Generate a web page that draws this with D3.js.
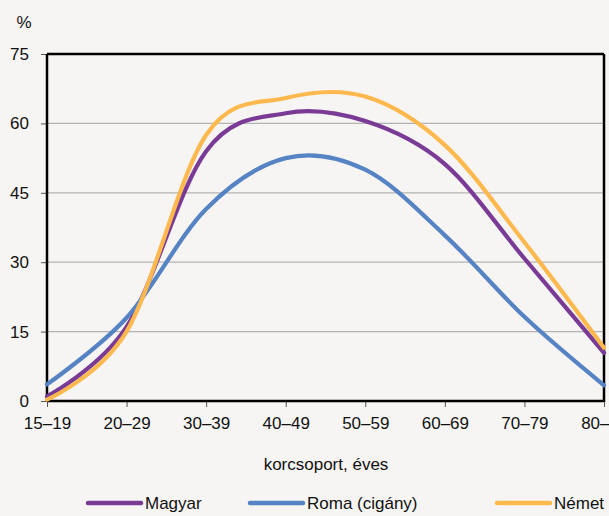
<!DOCTYPE html>
<html><head><meta charset="utf-8">
<script src="https://cdn.jsdelivr.net/npm/d3@7"></script>
<style>body{margin:0;background:#f6f5f3;}svg{display:block;font-family:"Liberation Sans",Arial,sans-serif;}</style>
</head><body>
<svg id="c" width="609" height="516"></svg>
<script>
const categories = ["15–19","20–29","30–39","40–49","50–59","60–69","70–79","80–"];
const magyar = [1.0, 16.0, 54.0, 62.2, 60.5, 51.2, 30.8, 10.4];
const roma   = [3.6, 18.0, 41.5, 52.5, 50.0, 35.8, 18.2, 3.4];
const nemet  = [0.3, 15.0, 57.5, 65.5, 65.8, 55.3, 34.3, 11.5];
const yTicks = [0, 15, 30, 45, 60, 75];
const seriesNames = ["Magyar", "Roma (cigány)", "Német"];
const colors = ["#7a3b96", "#5683c4", "#fdb84e"];

const svg = d3.select("#c");
const L = 47, R = 604, T = 54, B = 401;
const x = d3.scalePoint().domain(categories).range([L, R]);
const y = d3.scaleLinear().domain([0, 75]).range([B, T]);

// grid
svg.append("g").selectAll("line").data(yTicks.filter(d => d > 0 && d < 75)).join("line")
  .attr("x1", L).attr("x2", R).attr("y1", d => y(d)).attr("y2", d => y(d))
  .attr("stroke", "#b3b3b3").attr("stroke-width", 1.3);

// y axis
const ya = svg.append("g").attr("transform", `translate(${L},0)`)
  .call(d3.axisLeft(y).tickValues(yTicks).tickSize(6).tickPadding(12));
ya.select(".domain").remove();
ya.selectAll("line").attr("stroke", "#555");
ya.selectAll("text").attr("font-size", 17).attr("fill", "#111").attr("font-family", "Liberation Sans, Arial, sans-serif");

// x axis
const xa = svg.append("g").attr("transform", `translate(0,${B})`)
  .call(d3.axisBottom(x).tickSize(6).tickPadding(10));
xa.select(".domain").remove();
xa.selectAll("line").attr("stroke", "#555");
xa.selectAll("text").attr("font-size", 17).attr("fill", "#111").attr("font-family", "Liberation Sans, Arial, sans-serif");
xa.selectAll(".tick").filter(d => d === categories[categories.length - 1])
  .select("text").attr("text-anchor", "end").attr("dx", 5);

// frame
svg.append("line").attr("x1", L).attr("x2", L).attr("y1", T).attr("y2", B + 1).attr("stroke", "#000").attr("stroke-width", 2.5);
svg.append("line").attr("x1", L).attr("x2", R).attr("y1", T).attr("y2", T).attr("stroke", "#000").attr("stroke-width", 2.5);
svg.append("line").attr("x1", R).attr("x2", R).attr("y1", T).attr("y2", B + 1).attr("stroke", "#000").attr("stroke-width", 2.5);
svg.append("line").attr("x1", L).attr("x2", R).attr("y1", B).attr("y2", B).attr("stroke", "#000").attr("stroke-width", 2.5);

// lines
const line = d3.line().x((d, i) => x(categories[i])).y(d => y(d)).curve(d3.curveCardinal.tension(0));
[magyar, roma, nemet].forEach((s, k) => {
  svg.append("path").datum(s).attr("d", line).attr("fill", "none")
    .attr("stroke", colors[k]).attr("stroke-width", 4.2).attr("stroke-linecap", "round");
});

// labels
svg.append("text").attr("x", 24).attr("y", 28).attr("text-anchor", "middle").attr("font-size", 17).attr("fill", "#111").text("%");
svg.append("text").attr("x", 326).attr("y", 470).attr("text-anchor", "middle").attr("font-size", 17).attr("fill", "#111").text("korcsoport, éves");

// legend
const lx = [88, 250, 497];
seriesNames.forEach((n, k) => {
  svg.append("line").attr("x1", lx[k]).attr("x2", lx[k] + 53).attr("y1", 503).attr("y2", 503)
    .attr("stroke", colors[k]).attr("stroke-width", 4.5).attr("stroke-linecap", "round");
  svg.append("text").attr("x", lx[k] + 57).attr("y", 509).attr("font-size", 17).attr("fill", "#111").text(n);
});
</script>
</body></html>
